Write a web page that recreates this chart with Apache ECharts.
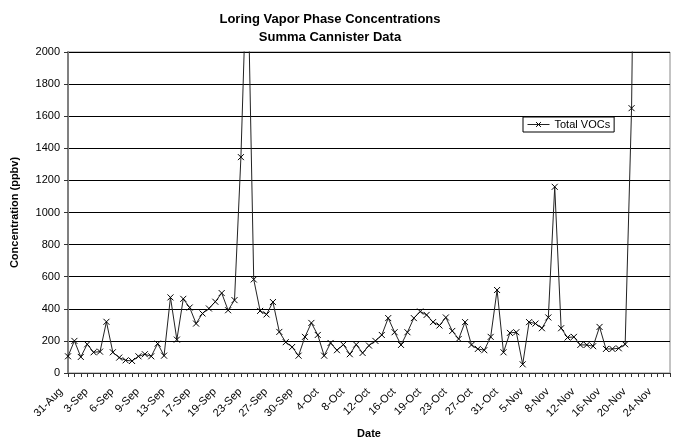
<!DOCTYPE html>
<html>
<head>
	<meta charset="utf-8">
	<title>Loring Vapor Phase Concentrations</title>
	<script src="https://cdn.jsdelivr.net/npm/echarts@6/dist/echarts.min.js"></script>
	<style type="text/css">
		html, body{
			margin: 0;
			padding: 0;
			background: #ffffff;
		}
		#chartContainer{
			width: 678px;
			height: 445px;
		}
	</style>
</head>
<body>
	<div id="chartContainer"></div>
	<script type="text/javascript">
		// sample dates (only every 4th one is labelled on the axis)
		var dateList=["31-Aug","1-Sep","1-Sep","2-Sep",
			"3-Sep","4-Sep","5-Sep","5-Sep",
			"6-Sep","7-Sep","8-Sep","8-Sep",
			"9-Sep","10-Sep","11-Sep","12-Sep",
			"13-Sep","14-Sep","15-Sep","16-Sep",
			"17-Sep","17-Sep","18-Sep","18-Sep",
			"19-Sep","20-Sep","21-Sep","22-Sep",
			"23-Sep","24-Sep","25-Sep","26-Sep",
			"27-Sep","28-Sep","29-Sep","29-Sep",
			"30-Sep","1-Oct","2-Oct","3-Oct",
			"4-Oct","5-Oct","6-Oct","7-Oct",
			"8-Oct","9-Oct","10-Oct","11-Oct",
			"12-Oct","13-Oct","14-Oct","15-Oct",
			"16-Oct","17-Oct","17-Oct","18-Oct",
			"19-Oct","20-Oct","21-Oct","22-Oct",
			"23-Oct","24-Oct","25-Oct","26-Oct",
			"27-Oct","28-Oct","29-Oct","30-Oct",
			"31-Oct","1-Nov","2-Nov","3-Nov",
			"5-Nov","6-Nov","6-Nov","7-Nov",
			"8-Nov","9-Nov","10-Nov","11-Nov",
			"12-Nov","13-Nov","14-Nov","15-Nov",
			"16-Nov","17-Nov","18-Nov","19-Nov",
			"20-Nov","21-Nov","22-Nov","23-Nov",
			"24-Nov","25-Nov","26-Nov"];
		// Total VOCs (ppbv); two peaks run off the top of the axis
		var totalVOCs=[104,200,100,179,129,133,319,129,96,79,
			75,104,117,104,183,108,471,208,462,408,
			308,371,402,444,498,391,454,1345,2650,583,
			387,365,442,256,192,162,108,225,312,237,
			108,187,142,177,117,177,125,171,200,237,
			342,254,175,254,342,383,362,317,296,346,
			262,212,317,175,150,142,225,517,129,250,
			254,54,317,308,279,346,1160,279,221,225,
			175,175,167,287,150,150,154,179,1650,5000,
			null,null,null,null,null];
		var yTicks={min:0,max:2000,interval:200};

		function showChart(){
			var myChart=echarts.init(document.getElementById('chartContainer'));
			var font='"Liberation Sans", Arial, sans-serif';
			var option={
				animation:false,
				textStyle:{fontFamily:font},
				title:{
					text:'Loring Vapor Phase Concentrations\nSumma Cannister Data',
					left:325,
					textAlign:'center',
					top:5,
					textStyle:{fontFamily:font,fontSize:13,fontWeight:'bold',color:'#000',lineHeight:18}
				},
				legend:{
					data:['Total VOCs'],
					left:523,
					top:117,
					orient:'vertical',
					backgroundColor:'#fff',
					borderColor:'#000',
					borderWidth:1,
					padding:[2,4,2,4],
					itemWidth:22,
					itemHeight:6,
					itemGap:0,
					lineStyle:{width:1},
					itemStyle:{borderWidth:1},
					textStyle:{fontFamily:font,fontSize:11,color:'#000'}
				},
				grid:{
					left:68,
					right:8,
					top:52,
					bottom:72,
					show:true,
					borderColor:'#888',
					borderWidth:1
				},
				xAxis:{
					type:'category',
					boundaryGap:false,
					data:dateList,
					name:'Date',
					nameLocation:'middle',
					nameGap:55,
					nameTextStyle:{fontFamily:font,fontSize:11,fontWeight:'bold',color:'#000'},
					axisLine:{lineStyle:{color:'#333',width:1}},
					axisTick:{show:true,interval:0,length:4,lineStyle:{color:'#333'}},
					axisLabel:{interval:3,rotate:45,fontSize:11,color:'#000',fontFamily:font,margin:10,
						padding:[0,10,0,0]},
					splitLine:{show:false}
				},
				yAxis:{
					type:'value',
					min:yTicks.min,
					max:yTicks.max,
					interval:yTicks.interval,
					name:'Concentration (ppbv)',
					nameLocation:'middle',
					nameGap:48,
					nameTextStyle:{fontFamily:font,fontSize:11,fontWeight:'bold',color:'#000'},
					axisLine:{show:true,lineStyle:{color:'#808080',width:2}},
					axisTick:{show:true,length:4,lineStyle:{color:'#333'}},
					axisLabel:{fontSize:11,color:'#000',fontFamily:font,margin:8,
						formatter:function(v){return String(v);}},
					splitLine:{lineStyle:{color:'#000',width:1}}
				},
				series:[{
					name:'Total VOCs',
					type:'line',
					data:totalVOCs,
					clip:true,
					showAllSymbol:true,
					symbol:'path://M0,0L10,10M10,0L0,10',
					symbolSize:6,
					lineStyle:{color:'#222',width:1},
					itemStyle:{color:'none',borderColor:'#000',borderWidth:1}
				}]
			};
			myChart.setOption(option);
		}

		window.onload=function(){
			showChart();
		}
	</script>
</body>
</html>
